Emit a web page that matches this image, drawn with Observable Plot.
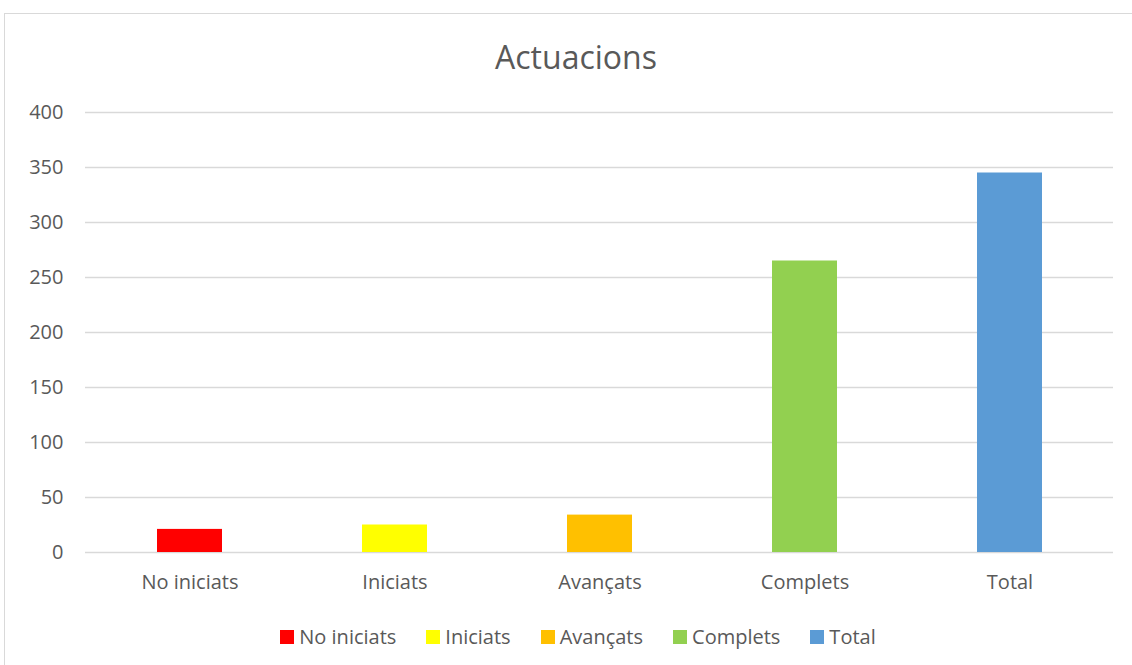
<!DOCTYPE html>
<html>
<head>
<meta charset="utf-8">
<script src="https://cdn.jsdelivr.net/npm/d3@7"></script>
<script src="https://cdn.jsdelivr.net/npm/@observablehq/plot@0.6"></script>
<style>
  html, body { margin: 0; padding: 0; background: #fff; }
  body { width: 1132px; height: 665px; position: relative; overflow: hidden; font-family: "Open Sans", Lato, sans-serif; color: #595959; }
  #frame { position: absolute; left: 4px; top: 13px; width: 1130px; height: 660px; border: 1px solid #d9d9d9; box-sizing: border-box; }
  #title { position: absolute; left: 0; width: 1152px; top: 35px; text-align: center; font-size: 32px; color: #595959; }
  #chart { position: absolute; left: 0; top: 90px; }
  #legend { position: absolute; top: 623px; left: 0; width: 1156px; display: flex; justify-content: center; font-size: 20px; }
  .item { display: flex; align-items: center; margin: 0 15px; }
  .sw { width: 14px; height: 14px; margin-right: 5px; }
</style>
</head>
<body>
<div id="frame"></div>
<div id="title">Actuacions</div>
<div id="chart"></div>
<div id="legend"></div>
<script>
const categories = ["No iniciats", "Iniciats", "Avançats", "Complets", "Total"];
const values = [21, 25, 34, 265, 345];
const colors = ["#FF0000", "#FFFF00", "#FFC000", "#92D050", "#5B9BD5"];
const yTicks = [0, 50, 100, 150, 200, 250, 300, 350, 400];

const data = categories.map((c, i) => ({category: c, value: values[i]}));

const chart = Plot.plot({
  width: 1132,
  height: 512,
  marginLeft: 85,
  marginRight: 19,
  marginTop: 22,
  marginBottom: 50,
  style: { fontFamily: "'Open Sans', Lato, sans-serif", fontSize: "20px", color: "#595959", background: "transparent" },
  x: { domain: categories, paddingInner: 0.684, paddingOuter: 0.342, label: null },
  y: { domain: [0, 400], ticks: yTicks, label: null },
  color: { domain: categories, range: colors },
  marks: [
    Plot.gridY(yTicks, { stroke: "#d9d9d9", strokeOpacity: 1, strokeWidth: 1.3 }),
    Plot.barY(data, { x: "category", y: "value", fill: "category" }),
    Plot.axisY(yTicks, { tickSize: 0, tickPadding: 22, fill: "#595959", fontSize: 20, label: null }),
    Plot.axisX({ tickSize: 0, tickPadding: 22, fill: "#595959", fontSize: 20, label: null })
  ]
});
document.getElementById("chart").appendChild(chart);

const legend = document.getElementById("legend");
categories.forEach((c, i) => {
  const it = document.createElement("div");
  it.className = "item";
  const sw = document.createElement("span");
  sw.className = "sw";
  sw.style.background = colors[i];
  const t = document.createElement("span");
  t.textContent = c;
  it.appendChild(sw);
  it.appendChild(t);
  legend.appendChild(it);
});
</script>
</body>
</html>
